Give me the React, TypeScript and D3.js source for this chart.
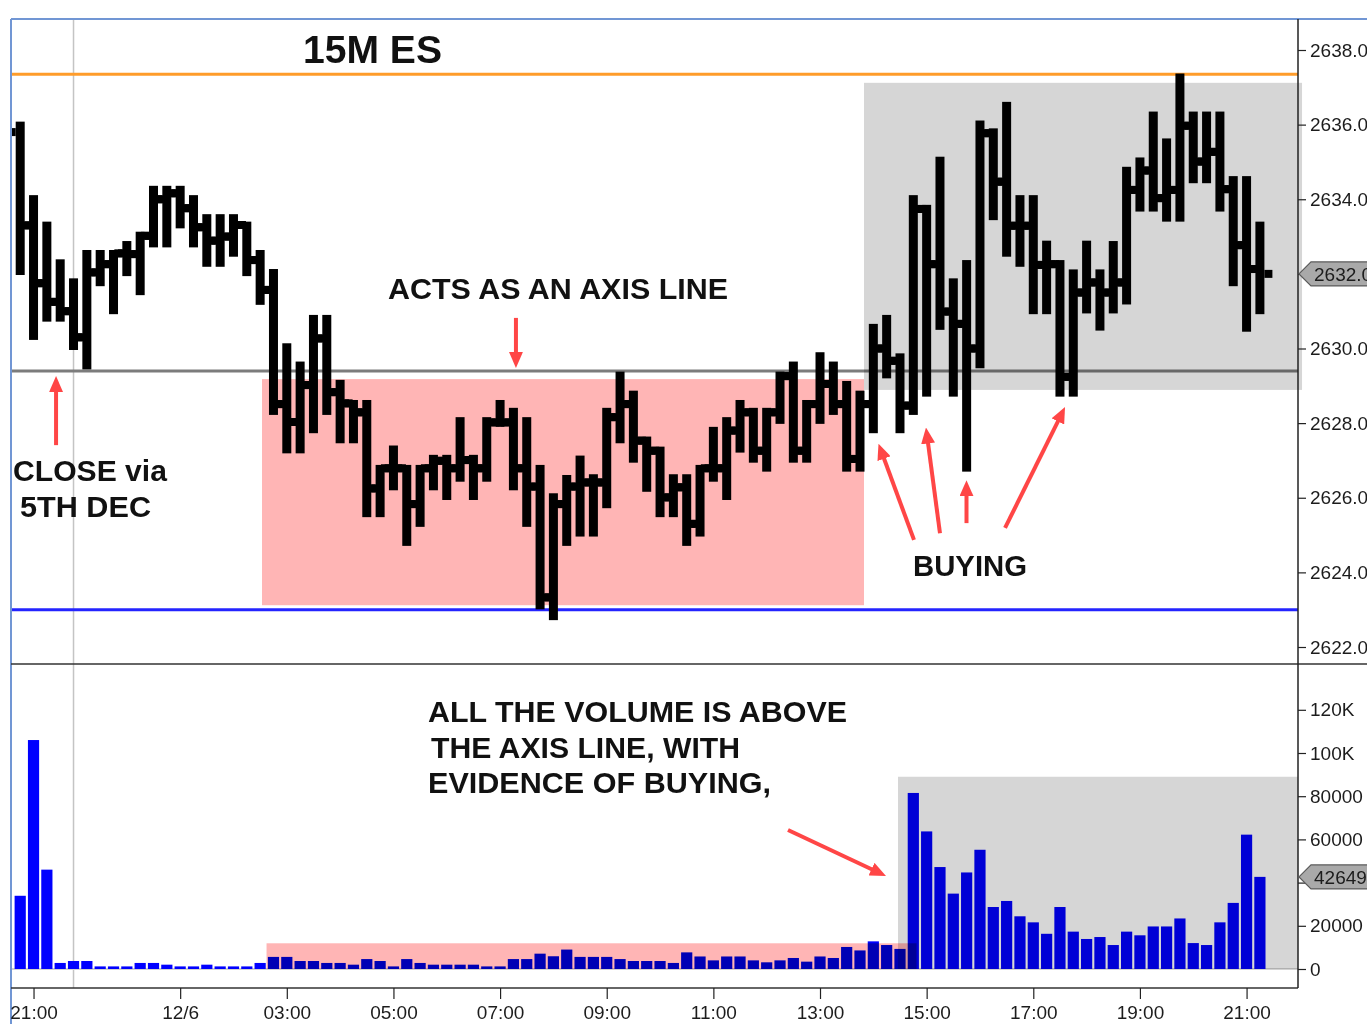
import React, { useRef, useEffect } from "react";
import * as d3 from "d3";

// 15 minute ES bars (index 0 = 20:45 on 12/5)
const opens = [
  2635.8, 2633.3, 2631.75, 2631.25, 2631.0, 2630.3, 2632.04, 2632.26, 2632.55, 2632.53,
  2633.02, 2634.0, 2634.16, 2633.76, 2633.25, 2632.89, 2633.0, 2633.31, 2632.37, 2631.57,
  2628.51, 2628.03, 2629.02, 2630.27, 2628.83, 2628.53, 2628.29, 2626.25, 2626.79, 2626.79,
  2625.83, 2626.79, 2626.99, 2626.79, 2627.01, 2626.79, 2628.02, 2628.02, 2626.79, 2626.3,
  2623.33, 2625.83, 2626.3, 2626.41, 2626.41, 2628.16, 2628.51, 2627.53, 2627.26, 2626.01,
  2626.28, 2625.3, 2626.79, 2626.79, 2627.8, 2628.29, 2627.26, 2628.29, 2629.26, 2627.26,
  2628.51, 2629.05, 2628.51, 2627.04, 2628.51, 2630.0, 2629.67, 2628.47, 2633.74, 2632.26,
  2630.99, 2630.66, 2630.0, 2635.77, 2634.47, 2633.29, 2633.29, 2632.24, 2632.26, 2629.24,
  2631.5, 2631.77, 2631.5, 2631.77, 2634.25, 2634.77, 2634.03, 2634.25, 2635.97, 2635.01,
  2635.27, 2634.27, 2632.77, 2632.13,
];
const highs = [
  2636.08, 2634.11, 2633.4, 2632.39, 2631.88, 2632.64, 2632.64, 2632.64, 2632.88, 2633.13,
  2634.36, 2634.36, 2634.36, 2634.11, 2633.6, 2633.6, 2633.6, 2633.4, 2632.64, 2632.13,
  2630.14, 2629.65, 2630.9, 2630.9, 2629.16, 2628.62, 2628.62, 2626.88, 2627.4, 2626.88,
  2626.88, 2627.15, 2627.15, 2628.16, 2627.15, 2628.16, 2628.62, 2628.41, 2628.16, 2626.88,
  2626.12, 2626.61, 2627.13, 2626.63, 2628.41, 2629.38, 2628.87, 2627.64, 2627.37, 2626.63,
  2626.63, 2626.88, 2627.9, 2628.16, 2628.62, 2628.41, 2628.41, 2629.38, 2629.65, 2628.62,
  2629.9, 2629.65, 2629.13, 2628.87, 2630.66, 2630.9, 2629.87, 2634.11, 2633.85, 2635.14,
  2631.88, 2632.37, 2636.11, 2635.9, 2636.61, 2634.11, 2634.11, 2632.89, 2632.37, 2632.12,
  2632.89, 2632.12, 2632.88, 2634.87, 2635.12, 2636.35, 2635.63, 2637.37, 2636.35, 2636.35,
  2636.35, 2634.62, 2634.62, 2633.4,
];
const lows = [
  2631.97, 2630.23, 2630.72, 2630.72, 2629.96, 2629.44, 2631.67, 2630.92, 2631.94, 2631.43,
  2632.71, 2632.71, 2633.22, 2632.71, 2632.19, 2632.19, 2632.46, 2631.94, 2631.17, 2628.22,
  2627.19, 2627.19, 2627.73, 2628.22, 2627.46, 2627.46, 2625.48, 2625.48, 2626.2, 2624.71,
  2625.22, 2626.2, 2625.94, 2626.43, 2625.94, 2626.43, 2627.9, 2626.2, 2625.22, 2623.01,
  2622.72, 2624.71, 2624.96, 2624.96, 2625.72, 2627.46, 2626.94, 2626.16, 2625.48, 2625.48,
  2624.71, 2624.96, 2626.43, 2625.94, 2627.21, 2626.94, 2626.7, 2627.98, 2626.94, 2626.94,
  2627.98, 2628.22, 2626.7, 2626.7, 2627.73, 2629.2, 2627.73, 2628.22, 2628.71, 2630.5,
  2628.71, 2626.7, 2629.47, 2633.44, 2632.46, 2632.19, 2630.92, 2630.92, 2628.71, 2628.71,
  2630.94, 2630.48, 2630.94, 2631.18, 2633.67, 2633.67, 2633.4, 2633.4, 2634.43, 2634.43,
  2633.67, 2631.67, 2630.45, 2630.92,
];
const closes = [
  2633.3, 2631.75, 2631.25, 2631.0, 2630.3, 2632.04, 2632.26, 2632.55, 2632.53, 2633.02,
  2634.0, 2634.16, 2633.76, 2633.25, 2632.89, 2633.0, 2633.31, 2632.37, 2631.57, 2628.51,
  2628.03, 2629.02, 2630.27, 2628.83, 2628.53, 2628.29, 2626.25, 2626.79, 2626.79, 2625.83,
  2626.79, 2626.99, 2626.79, 2627.01, 2626.79, 2628.02, 2628.02, 2626.79, 2626.3, 2623.33,
  2625.83, 2626.3, 2626.41, 2626.41, 2628.16, 2628.51, 2627.53, 2627.26, 2626.01, 2626.28,
  2625.3, 2626.79, 2626.79, 2627.8, 2628.29, 2627.26, 2628.29, 2629.26, 2627.26, 2628.51,
  2629.05, 2628.51, 2627.04, 2628.51, 2630.0, 2629.67, 2628.47, 2633.74, 2632.26, 2630.99,
  2630.66, 2630.0, 2635.77, 2634.47, 2633.29, 2633.29, 2632.24, 2632.26, 2629.24, 2631.5,
  2631.77, 2631.5, 2631.77, 2634.25, 2634.77, 2634.03, 2634.25, 2635.97, 2635.01, 2635.27,
  2634.27, 2632.77, 2632.13, 2632.0,
];
const volumes = [
  33900, 106000, 46000, 2800, 3700, 3700, 1200, 1200, 1200, 2800,
  2800, 2000, 1200, 1200, 2000, 1200, 1200, 1200, 2800, 5600,
  5600, 3700, 3700, 2800, 2800, 2000, 4600, 3700, 1200, 4600,
  2800, 2000, 2000, 2000, 2000, 1200, 1200, 4600, 4600, 7100,
  5900, 9000, 5600, 5600, 5600, 4600, 3700, 3700, 3700, 2800,
  7700, 5800, 4000, 5800, 5800, 4000, 3100, 4000, 5100, 3400,
  5800, 5100, 10200, 8600, 12800, 11100, 9300, 81500, 63700, 47200,
  34900, 44700, 55200, 28700, 31500, 24400, 21600, 16300, 28700, 17300,
  13900, 14800, 11100, 17300, 15600, 19700, 19700, 23400, 12000, 11100,
  21600, 30600, 62200, 42649,
];

const timeTickIndex = [1, 12, 20, 28, 36, 44, 52, 60, 68, 76, 84, 92];
const timeTickLabels = ["21:00", "12/6", "03:00", "05:00", "07:00", "09:00", "11:00", "13:00", "15:00", "17:00", "19:00", "21:00"];
const priceTicks = [2622, 2624, 2626, 2628, 2630, 2632, 2634, 2636, 2638];
const volumeTicks = [0, 20000, 40000, 60000, 80000, 100000, 120000];

const sessionStart = 4;
const resistanceLevel = 2637.35;
const axisLevel = 2629.4;
const supportLevel = 2623.0;

// shaded zones: [startIndex, endIndex, top, bottom]
const priceSellZone = [18.14, 63.3, 2629.18, 2623.12];
const priceBuyZone = [63.3, 96.16, 2637.12, 2628.89];
const volumeSellZone = [18.48, 67.24, 11900, 0];
const volumeBuyZone = [65.85, 95.86, 89000, 0];

// arrows in data space: [fromIndex, fromValue, toIndex, toValue]
const priceArrows = [
  [37.19, 2630.82, 37.19, 2629.48],
  [2.69, 2627.41, 2.69, 2629.26],
  [67.05, 2624.87, 64.39, 2627.45],
  [69.0, 2625.05, 67.95, 2627.88],
  [70.99, 2625.32, 70.99, 2626.47],
  [73.88, 2625.19, 78.38, 2628.43],
];
const volumeArrows = [[57.6, 64360, 64.95, 43060]];

const App = () => {
  const svgRef = useRef<SVGSVGElement>(null);

  useEffect(() => {
    const width = 1367;
    const height = 1024;
    const pane = { left: 11, right: 1298, top: 19, split: 664, bottom: 988 };
    const font = "'Liberation Sans', Arial, sans-serif";

    const svg = d3.select(svgRef.current).attr("width", width).attr("height", height);
    svg.selectAll("*").remove();

    const x = d3.scaleLinear().domain([0, 93]).range([20.2, 1259.9]);
    const yPrice = d3.scaleLinear().domain([2622, 2638]).range([647, 50]);
    const yVol = d3.scaleLinear().domain([0, 120000]).range([969, 709.8]);

    const lastClose = closes[closes.length - 1];
    const lastVolume = volumes[volumes.length - 1];

    const defs = svg.append("defs");
    defs.append("clipPath").attr("id", "priceClip").append("rect")
      .attr("x", pane.left).attr("y", pane.top)
      .attr("width", pane.right - pane.left).attr("height", pane.split - pane.top);
    defs.append("clipPath").attr("id", "volClip").append("rect")
      .attr("x", pane.left).attr("y", pane.split)
      .attr("width", pane.right - pane.left).attr("height", pane.bottom - pane.split);
    defs.append("marker")
      .attr("id", "head")
      .attr("markerUnits", "userSpaceOnUse")
      .attr("viewBox", "0 0 16 14")
      .attr("markerWidth", 16).attr("markerHeight", 14)
      .attr("refX", 6).attr("refY", 7)
      .attr("orient", "auto")
      .append("path").attr("d", "M0,0 L16,7 L0,14 Z").attr("fill", "#ff4646");

    svg.append("rect").attr("width", width).attr("height", height).attr("fill", "#fff");

    // session separator
    svg.append("line")
      .attr("x1", x(sessionStart)).attr("x2", x(sessionStart))
      .attr("y1", pane.top).attr("y2", pane.bottom)
      .attr("stroke", "#c4c4c4").attr("stroke-width", 1.5);

    // ---- price pane
    const price = svg.append("g").attr("clip-path", "url(#priceClip)");

    const levels = [
      { v: resistanceLevel, c: "#ff9c2a" },
      { v: axisLevel, c: "#7c7c7c" },
      { v: supportLevel, c: "#2424ff" },
    ];
    price.selectAll("line.level").data(levels).join("line")
      .attr("class", "level")
      .attr("x1", pane.left).attr("x2", pane.right)
      .attr("y1", (d) => yPrice(d.v)).attr("y2", (d) => yPrice(d.v))
      .attr("stroke", (d) => d.c).attr("stroke-width", 3);

    const bars = closes.map((c, i) => ({ i, o: opens[i], h: highs[i], l: lows[i], c }));
    const barG = price.selectAll("g.bar").data(bars).join("g").attr("class", "bar").attr("fill", "#000");
    barG.append("rect")
      .attr("x", (d) => x(d.i) - 4.5).attr("width", 9)
      .attr("y", (d) => yPrice(d.h)).attr("height", (d) => yPrice(d.l) - yPrice(d.h));
    barG.append("rect")
      .attr("x", (d) => x(d.i) - 12.5).attr("width", 8)
      .attr("y", (d) => yPrice(d.o) - 4).attr("height", 8);
    barG.append("rect")
      .attr("x", (d) => x(d.i) + 4.5).attr("width", 8)
      .attr("y", (d) => yPrice(d.c) - 4).attr("height", 8);

    const zoneRect = (g, z, y, fill) =>
      g.append("rect")
        .attr("x", x(z[0])).attr("width", x(z[1]) - x(z[0]))
        .attr("y", y(z[2])).attr("height", y(z[3]) - y(z[2]))
        .attr("fill", fill)
        .style("mix-blend-mode", "multiply");

    zoneRect(price, priceSellZone, yPrice, "#ffb5b5");
    zoneRect(svg, priceBuyZone, yPrice, "#d6d6d6");

    // ---- volume pane
    const vol = svg.append("g").attr("clip-path", "url(#volClip)");
    vol.append("line")
      .attr("x1", pane.left).attr("x2", pane.right)
      .attr("y1", yVol(0)).attr("y2", yVol(0))
      .attr("stroke", "#d2d2d2").attr("stroke-width", 2);
    vol.selectAll("rect.vbar").data(volumes).join("rect")
      .attr("class", "vbar")
      .attr("x", (d, i) => x(i) - 5.6).attr("width", 11.2)
      .attr("y", (d) => yVol(d)).attr("height", (d) => yVol(0) - yVol(d))
      .attr("fill", "#0000ff");
    zoneRect(vol, volumeSellZone, yVol, "#ffb5b5");
    zoneRect(vol, volumeBuyZone, yVol, "#d6d6d6");

    // ---- frame
    svg.append("line").attr("x1", pane.left).attr("x2", width).attr("y1", pane.top).attr("y2", pane.top)
      .attr("stroke", "#7196d4").attr("stroke-width", 2);
    svg.append("line").attr("x1", pane.left).attr("x2", pane.left).attr("y1", pane.top).attr("y2", height)
      .attr("stroke", "#7196d4").attr("stroke-width", 2);
    svg.append("line").attr("x1", pane.left).attr("x2", width).attr("y1", pane.split).attr("y2", pane.split)
      .attr("stroke", "#333").attr("stroke-width", 1.5);
    svg.append("line").attr("x1", pane.left).attr("x2", pane.right).attr("y1", pane.bottom).attr("y2", pane.bottom)
      .attr("stroke", "#333").attr("stroke-width", 1.5);
    svg.append("line").attr("x1", pane.right).attr("x2", pane.right).attr("y1", pane.top).attr("y2", pane.bottom)
      .attr("stroke", "#222").attr("stroke-width", 1.5);

    const styleAxis = (g) => {
      g.select(".domain").remove();
      g.selectAll("line").attr("stroke", "#222").attr("stroke-width", 1.2);
      g.selectAll("text").attr("fill", "#1c1c1c").style("font-family", font).style("font-size", "19px");
    };

    // labels hidden under the last-value markers are left out
    const priceAxis = svg.append("g")
      .attr("transform", `translate(${pane.right},0)`)
      .call(d3.axisRight(yPrice).tickValues(priceTicks).tickFormat(d3.format(".2f")).tickSize(8).tickPadding(4))
      .call(styleAxis);
    priceAxis.selectAll(".tick text").filter((d) => Math.abs(yPrice(d) - yPrice(lastClose)) < 20).remove();

    const volAxis = svg.append("g")
      .attr("transform", `translate(${pane.right},0)`)
      .call(d3.axisRight(yVol).tickValues(volumeTicks)
        .tickFormat((v) => (v >= 100000 ? `${v / 1000}K` : String(v))).tickSize(8).tickPadding(4))
      .call(styleAxis);
    volAxis.selectAll(".tick text").filter((d) => Math.abs(yVol(d) - yVol(lastVolume)) < 20).remove();

    svg.append("g")
      .attr("transform", `translate(0,${pane.bottom})`)
      .call(d3.axisBottom(x).tickValues(timeTickIndex)
        .tickFormat((d, i) => timeTickLabels[i]).tickSize(11).tickPadding(7))
      .call(styleAxis);

    // last value markers
    const marker = (yPos, label) => {
      const g = svg.append("g");
      g.append("path")
        .attr("d", `M${pane.right + 1},${yPos} L${pane.right + 13},${yPos - 12} L${width + 2},${yPos - 12} L${width + 2},${yPos + 12} L${pane.right + 13},${yPos + 12} Z`)
        .attr("fill", "#a9a9a9").attr("stroke", "#5a5a5a").attr("stroke-width", 1.2);
      g.append("text")
        .attr("x", pane.right + 16).attr("y", yPos).attr("dy", "0.35em")
        .attr("fill", "#1c1c1c").style("font-family", font).style("font-size", "19px")
        .text(label);
    };
    marker(yPrice(lastClose), d3.format(".2f")(lastClose));
    marker(yVol(lastVolume), String(lastVolume));

    // ---- annotations
    const arrows = svg.append("g");
    const drawArrow = (x0, y0, x1, y1) => {
      const len = Math.hypot(x1 - x0, y1 - y0);
      const ux = (x1 - x0) / len;
      const uy = (y1 - y0) / len;
      arrows.append("line")
        .attr("x1", x0).attr("y1", y0)
        .attr("x2", x1 - ux * 10).attr("y2", y1 - uy * 10)
        .attr("stroke", "#ff4646").attr("stroke-width", 4)
        .attr("marker-end", "url(#head)");
    };
    priceArrows.forEach((a) => drawArrow(x(a[0]), yPrice(a[1]), x(a[2]), yPrice(a[3])));
    volumeArrows.forEach((a) => drawArrow(x(a[0]), yVol(a[1]), x(a[2]), yVol(a[3])));

    const notes = [
      { t: "15M ES", x: 303, y: 63, s: 39, w: 139 },
      { t: "ACTS AS AN AXIS LINE", x: 388, y: 299, s: 30, w: 340 },
      { t: "CLOSE via", x: 13, y: 481, s: 29, w: 154 },
      { t: "5TH DEC", x: 20, y: 517, s: 29, w: 131 },
      { t: "BUYING", x: 913, y: 576, s: 29, w: 114 },
      { t: "ALL THE VOLUME IS ABOVE", x: 428, y: 722, s: 30, w: 419 },
      { t: "THE AXIS LINE, WITH", x: 431, y: 758, s: 30, w: 309 },
      { t: "EVIDENCE OF BUYING,", x: 428, y: 793, s: 30, w: 343 },
    ];
    svg.append("g").selectAll("text").data(notes).join("text")
      .attr("x", (d) => d.x).attr("y", (d) => d.y)
      .attr("textLength", (d) => d.w).attr("lengthAdjust", "spacingAndGlyphs")
      .attr("fill", "#111")
      .style("font-family", font).style("font-weight", "bold")
      .style("font-size", (d) => `${d.s}px`)
      .text((d) => d.t);

    return () => {
      svg.selectAll("*").remove();
    };
  }, []);

  return <svg ref={svgRef} style={{ position: "absolute", left: 0, top: 0 }}></svg>;
};

export default App;
